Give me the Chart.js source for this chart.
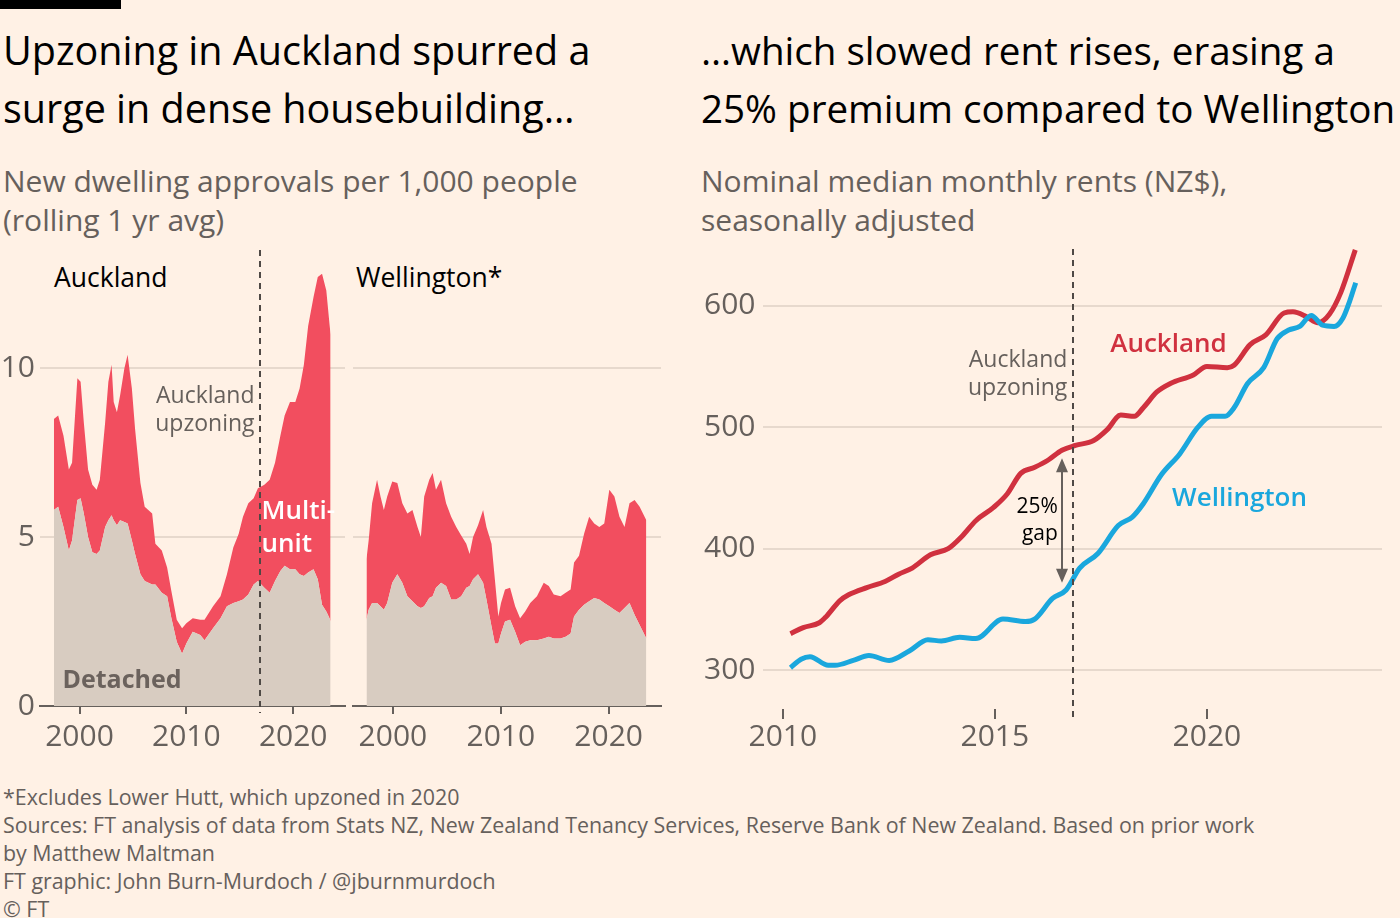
<!DOCTYPE html>
<html>
<head>
<meta charset="utf-8">
<script src="https://cdn.jsdelivr.net/npm/chart.js@4.4.1/dist/chart.umd.min.js"></script>
<style>
  body { margin: 0; width: 1400px; height: 918px; overflow: hidden; background: #fff1e5; position: relative; font-family: "Open Sans", sans-serif; }
  .bar { position: absolute; left: 0; top: 0; width: 121px; height: 9px; background: #000; }
  .title { position: absolute; top: 21px; font-size: 39.5px; line-height: 58px; color: #000; white-space: nowrap; }
  .sub { position: absolute; top: 161px; font-size: 30px; line-height: 39px; color: #66605c; white-space: nowrap; }
  .panel { position: absolute; top: 262px; font-size: 26.5px; line-height: 30px; color: #000; white-space: nowrap; }
  .foot { position: absolute; left: 3px; top: 783px; font-size: 21.4px; line-height: 28px; color: #66605c; white-space: nowrap; }
  canvas { position: absolute; }
</style>
</head>
<body>
<div class="bar"></div>
<div class="title" style="left:3px">Upzoning in Auckland spurred a<br>surge in dense housebuilding…</div>
<div class="title" style="left:701px;font-size:38.6px">…which slowed rent rises, erasing a<br>25% premium compared to Wellington</div>
<div class="sub" style="left:3px">New dwelling approvals per 1,000 people<br>(rolling 1 yr avg)</div>
<div class="sub" style="left:701px">Nominal median monthly rents (NZ$),<br>seasonally adjusted</div>
<div class="panel" style="left:54px">Auckland</div>
<div class="panel" style="left:356px">Wellington*</div>

<canvas id="aklApprovals" width="349" height="520" style="left:0;top:240px"></canvas>
<canvas id="wlgApprovals" width="316" height="520" style="left:349px;top:240px"></canvas>
<canvas id="rents" width="710" height="520" style="left:690px;top:240px"></canvas>

<div class="foot">*Excludes Lower Hutt, which upzoned in 2020<br>Sources: FT analysis of data from Stats NZ, New Zealand Tenancy Services, Reserve Bank of New Zealand. Based on prior work<br>by Matthew Maltman<br>FT graphic: John Burn-Murdoch / @jburnmurdoch<br>© FT</div>

<script>
const FONT = '"Open Sans", sans-serif';
const GREY = '#66605c';

// Auckland: new dwelling approvals per 1,000 people
const aklYears = [1997.6, 1998.0, 1998.5, 1999.0, 1999.3, 1999.8, 2000.1, 2000.4, 2000.8, 2001.2,
  2001.6, 2001.9, 2002.4, 2002.7, 2003.0, 2003.2, 2003.5, 2003.8, 2004.2, 2004.5,
  2004.9, 2005.2, 2005.7, 2006.1, 2006.8, 2007.1, 2007.7, 2008.2, 2008.6, 2009.1,
  2009.6, 2010.0, 2010.6, 2011.3, 2011.7, 2012.5, 2013.2, 2013.8, 2014.4, 2014.9,
  2015.3, 2015.8, 2016.3, 2016.7, 2017.3, 2017.8, 2018.3, 2018.8, 2019.2, 2019.7,
  2020.2, 2020.6, 2021.0, 2021.4, 2021.9, 2022.3, 2022.7, 2023.1, 2023.4, 2023.5];
const aklDetached = [5.8, 5.9, 5.3, 4.6, 4.9, 6.1, 6.15, 5.7, 5.0, 4.55,
  4.5, 4.6, 5.3, 5.5, 5.65, 5.5, 5.35, 5.5, 5.45, 5.4,
  4.9, 4.5, 3.9, 3.7, 3.6, 3.6, 3.35, 3.25, 2.6, 1.9,
  1.55, 1.85, 2.2, 2.1, 1.95, 2.3, 2.6, 2.95, 3.05, 3.1,
  3.15, 3.3, 3.6, 3.7, 3.5, 3.35, 3.7, 4.0, 4.15, 4.05,
  4.05, 3.9, 3.85, 3.95, 4.05, 3.75, 3.0, 2.8, 2.6, 2.5];
// detached + multi-unit
const aklTotal = [8.5, 8.6, 8.0, 7.0, 7.2, 9.7, 9.6, 8.4, 7.0, 6.55,
  6.4, 6.7, 8.4, 9.6, 10.1, 9.0, 8.7, 9.2, 10.0, 10.4,
  9.4, 8.2, 6.6, 5.9, 5.7, 4.8, 4.6, 4.1, 3.4, 2.55,
  2.3, 2.45, 2.6, 2.55, 2.55, 2.95, 3.25, 3.9, 4.7, 5.1,
  5.6, 6.0, 6.15, 6.45, 6.55, 6.7, 7.2, 8.0, 8.6, 9.0,
  9.0, 9.4, 10.1, 11.25, 12.1, 12.7, 12.8, 12.3, 11.3, 11.0];

// Wellington (excl. Lower Hutt)
const wlgYears = [1997.55, 1997.75, 1998.07, 1998.53, 1998.85, 1999.16, 1999.47, 1999.94, 2000.41, 2000.87,
  2001.34, 2001.81, 2002.28, 2002.59, 2002.9, 2003.37, 2003.68, 2003.99, 2004.46, 2004.93,
  2005.4, 2005.87, 2006.33, 2006.8, 2007.11, 2007.43, 2007.89, 2008.36, 2008.67, 2009.14,
  2009.45, 2009.77, 2010.02, 2010.39, 2010.86, 2011.33, 2011.79, 2012.26, 2012.73, 2013.35,
  2013.98, 2014.45, 2014.91, 2015.54, 2016.01, 2016.47, 2016.79, 2017.25, 2017.72, 2018.19,
  2018.66, 2019.13, 2019.59, 2020.06, 2020.53, 2021.0, 2021.47, 2021.93, 2022.4, 2022.87,
  2023.18, 2023.49];
const wlgDetached = [2.55, 2.85, 3.05, 3.05, 2.95, 2.85, 3.05, 3.65, 3.9, 3.65,
  3.25, 3.1, 2.95, 2.9, 2.95, 3.2, 3.25, 3.5, 3.65, 3.55,
  3.15, 3.15, 3.25, 3.5, 3.55, 3.75, 3.9, 3.65, 3.15, 2.35,
  1.85, 1.85, 2.15, 2.5, 2.55, 2.2, 1.8, 1.9, 1.95, 1.95,
  2.0, 2.05, 2.0, 2.0, 2.05, 2.15, 2.65, 2.85, 3.0, 3.1,
  3.2, 3.15, 3.05, 2.95, 2.85, 2.75, 2.9, 3.05, 2.7, 2.4,
  2.2, 2.0];
const wlgTotal = [4.35, 4.9, 6.0, 6.7, 6.2, 5.8, 6.2, 6.65, 6.6, 6.0,
  5.7, 5.8, 5.3, 5.0, 6.2, 6.7, 6.9, 6.4, 6.7, 6.0,
  5.6, 5.3, 5.05, 4.8, 4.5, 5.0, 5.35, 5.8, 5.3, 4.8,
  3.75, 2.65, 3.05, 3.45, 3.5, 2.95, 2.6, 2.8, 3.05, 3.25,
  3.65, 3.55, 3.3, 3.25, 3.35, 3.45, 4.25, 4.45, 5.1, 5.6,
  5.4, 5.3, 5.4, 6.4, 6.2, 5.6, 5.3, 6.0, 6.1, 5.9,
  5.7, 5.5];

// Median monthly rents (NZ$)
const aklRentYears = [2010.18, 2010.48, 2010.86, 2011.02, 2011.34, 2011.55, 2011.98, 2012.41, 2012.73, 2013.05,
  2013.48, 2013.9, 2014.22, 2014.55, 2014.97, 2015.29, 2015.61, 2015.94, 2016.26, 2016.58,
  2016.9, 2017.33, 2017.65, 2017.97, 2018.29, 2018.5, 2018.82, 2019.14, 2019.68, 2020.0,
  2020.48, 2020.64, 2021.02, 2021.39, 2021.82, 2022.03, 2022.35, 2022.62, 2022.89, 2023.16,
  2023.5];
const aklRent = [330, 335, 339, 344, 357, 362, 368, 373, 379, 384,
  395, 400, 410, 423, 434, 445, 462, 467, 473, 481,
  485, 489, 498, 510, 509, 516, 529, 536, 543, 550,
  549, 551, 568, 576, 594, 595, 591, 586, 593, 611,
  646];
const wlgRentYears = [2010.18, 2010.43, 2010.64, 2011.07, 2011.23, 2011.66, 2012.03, 2012.51, 2012.99, 2013.42,
  2013.74, 2014.17, 2014.55, 2015.19, 2015.72, 2015.94, 2016.36, 2016.68, 2017.0, 2017.43,
  2017.91, 2018.24, 2018.5, 2018.93, 2019.36, 2019.79, 2020.11, 2020.43, 2020.64, 2020.96,
  2021.34, 2021.66, 2021.93, 2022.19, 2022.46, 2022.73, 2023.0, 2023.21, 2023.37, 2023.51];
const wlgRent = [302, 309, 311, 304, 304, 308, 312, 308, 316, 325,
  324, 327, 326, 342, 340, 342, 359, 366, 384, 396,
  419, 426, 437, 461, 478, 500, 509, 509, 516, 536,
  549, 573, 580, 583, 592, 584, 583, 590, 604, 619];

const approvalTicksX = [2000, 2010, 2020];
const approvalTicksY = [0, 5, 10];
const rentTicksX = [2010, 2015, 2020];
const rentTicksY = [300, 400, 500, 600];
const upzoningYear = 2016.85;

const pts = (xs, ys) => xs.map((x, i) => ({ x: x, y: ys[i] }));
const setTicks = list => scale => { scale.ticks = list.map(v => ({ value: v })); };
// fixed axis sizes, no extra room for overhanging labels
const fixX = h => s => { s.height = h; s.paddingLeft = 0; s.paddingRight = 0; };
const fixY = w => s => { s.width = w; s.paddingTop = 0; s.paddingBottom = 0; };

// dashed upzoning line, arrow and in-chart labels
const notesPlugin = {
  id: 'notes',
  afterDatasetsDraw(chart, args, opts) {
    const { ctx, chartArea, scales: { x, y } } = chart;
    ctx.save();
    if (opts.dash) {
      const px = Math.round(x.getPixelForValue(upzoningYear));
      ctx.strokeStyle = '#4f4945';
      ctx.lineWidth = 2;
      ctx.setLineDash([6, 5]);
      ctx.beginPath();
      ctx.moveTo(px, chartArea.top + opts.dash[0]);
      ctx.lineTo(px, chartArea.bottom + opts.dash[1]);
      ctx.stroke();
      ctx.setLineDash([]);
    }
    if (opts.arrow) {
      const a = opts.arrow;
      const px = Math.round(x.getPixelForValue(a.x));
      const top = y.getPixelForValue(a.y1);
      const bot = y.getPixelForValue(a.y2);
      ctx.strokeStyle = GREY;
      ctx.fillStyle = GREY;
      ctx.lineWidth = 2;
      ctx.beginPath();
      ctx.moveTo(px, top + 10);
      ctx.lineTo(px, bot - 10);
      ctx.stroke();
      ctx.beginPath();
      ctx.moveTo(px, top); ctx.lineTo(px - 6, top + 14); ctx.lineTo(px + 6, top + 14); ctx.closePath();
      ctx.moveTo(px, bot); ctx.lineTo(px - 6, bot - 14); ctx.lineTo(px + 6, bot - 14); ctx.closePath();
      ctx.fill();
    }
    (opts.labels || []).forEach(l => {
      ctx.font = (l.weight || 400) + ' ' + l.size + 'px ' + FONT;
      ctx.fillStyle = l.color;
      ctx.textAlign = l.align || 'left';
      ctx.textBaseline = 'middle';
      const px = x.getPixelForValue(l.x) + (l.dx || 0);
      const py = y.getPixelForValue(l.y);
      l.text.forEach((t, i) => ctx.fillText(t, px, py + i * (l.lh || 0)));
    });
    ctx.restore();
  }
};

function approvalsChart(id, years, detached, total, showY, yWidth, notes) {
  return new Chart(document.getElementById(id), {
    type: 'line',
    data: {
      datasets: [
        { label: 'Detached', data: pts(years, detached), fill: 'origin', backgroundColor: '#d8ccc1',
          borderColor: 'rgba(0,0,0,0)', borderWidth: 0, pointRadius: 0, tension: 0 },
        { label: 'Multi-unit', data: pts(years, total), fill: '-1', backgroundColor: '#f24e5f',
          borderColor: 'rgba(0,0,0,0)', borderWidth: 0, pointRadius: 0, tension: 0 }
      ]
    },
    options: {
      responsive: false,
      animation: false,
      events: [],
      layout: { padding: { left: 0, right: 4, top: 10, bottom: 0 } },
      plugins: { legend: { display: false }, tooltip: { enabled: false }, notes: notes },
      scales: {
        x: {
          type: 'linear', min: 1996.3, max: 2024.85,
          afterBuildTicks: setTicks(approvalTicksX),
          afterFit: fixX(54),
          grid: { drawOnChartArea: false, drawTicks: true, tickLength: 8, color: GREY, lineWidth: 2 },
          border: { display: true, color: GREY, width: 2 },
          ticks: { color: GREY, font: { family: FONT, size: 30 }, padding: 5, maxRotation: 0, callback: v => String(v) }
        },
        y: {
          min: 0, max: 13.5,
          afterBuildTicks: setTicks(approvalTicksY),
          afterFit: fixY(yWidth),
          grid: { color: '#e7d9cd', lineWidth: 2, drawTicks: false },
          border: { display: false },
          ticks: { display: showY, color: GREY, font: { family: FONT, size: 30 }, padding: 5, callback: v => String(v) }
        }
      }
    },
    plugins: [notesPlugin]
  });
}

approvalsChart('aklApprovals', aklYears, aklDetached, aklTotal, true, 40, {
  dash: [0, 7],
  labels: [
    { text: ['Auckland', 'upzoning'], x: upzoningYear, dx: -5, y: 9.17, lh: 28, size: 23, color: GREY, align: 'right' },
    { text: ['Multi-', 'unit'], x: upzoningYear, dx: 2, y: 5.77, lh: 33, size: 26, weight: 600, color: '#ffffff' },
    { text: ['Detached'], x: 1998.4, y: 0.74, size: 25, weight: 700, color: '#6b625d' }
  ]
});

approvalsChart('wlgApprovals', wlgYears, wlgDetached, wlgTotal, false, 4, { labels: [] });

new Chart(document.getElementById('rents'), {
  type: 'line',
  data: {
    datasets: [
      { label: 'Wellington', data: pts(wlgRentYears, wlgRent), borderColor: '#1aa7dd', borderWidth: 5,
        pointRadius: 0, fill: false, cubicInterpolationMode: 'monotone', borderJoinStyle: 'round' },
      { label: 'Auckland', data: pts(aklRentYears, aklRent), borderColor: '#d0313f', borderWidth: 5,
        pointRadius: 0, fill: false, cubicInterpolationMode: 'monotone', borderJoinStyle: 'round' }
    ]
  },
  options: {
    responsive: false,
    animation: false,
    events: [],
    layout: { padding: { left: 0, right: 18, top: 5, bottom: 0 } },
    plugins: {
      legend: { display: false },
      tooltip: { enabled: false },
      notes: {
        dash: [4, 10],
        arrow: { x: 2016.58, y1: 474.5, y2: 372 },
        labels: [
          { text: ['Auckland', 'upzoning'], x: upzoningYear, dx: -6, y: 554.6, lh: 28, size: 23, color: GREY, align: 'right' },
          { text: ['25%', 'gap'], x: 2016.58, dx: -4, y: 434, lh: 27, size: 21, color: '#000000', align: 'right' },
          { text: ['Auckland'], x: 2017.72, y: 567.8, size: 26, weight: 600, color: '#d0313f' },
          { text: ['Wellington'], x: 2019.18, y: 441.5, size: 26, weight: 600, color: '#1aa7dd' }
        ]
      }
    },
    scales: {
      x: {
        type: 'linear', min: 2009.52, max: 2024.13,
        afterBuildTicks: setTicks(rentTicksX),
        afterFit: fixX(51),
        grid: { drawOnChartArea: false, drawTicks: true, tickLength: 10, color: GREY, lineWidth: 2 },
        border: { display: false },
        ticks: { color: GREY, font: { family: FONT, size: 30 }, padding: 0, maxRotation: 0, callback: v => String(v) }
      },
      y: {
        min: 268, max: 650,
        afterBuildTicks: setTicks(rentTicksY),
        afterFit: fixY(72.5),
        grid: { color: '#e7d9cd', lineWidth: 2, drawTicks: false },
        border: { display: false },
        ticks: { color: GREY, font: { family: FONT, size: 30 }, padding: 7, callback: v => String(v) }
      }
    }
  },
  plugins: [notesPlugin]
});
</script>
</body>
</html>
